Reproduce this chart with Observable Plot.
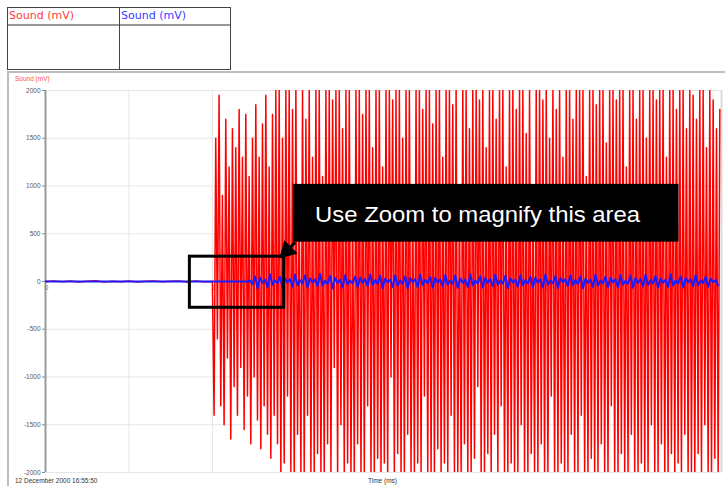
<!DOCTYPE html>
<html>
<head>
<meta charset="utf-8">
<script src="https://cdn.jsdelivr.net/npm/d3@7"></script>
<script src="https://cdn.jsdelivr.net/npm/@observablehq/plot@0.6"></script>
<style>
  html, body { margin: 0; padding: 0; background: #fff; }
  body { width: 725px; height: 486px; position: relative; overflow: hidden; font-family: "DejaVu Sans", sans-serif; }
  #table { position: absolute; left: 7px; top: 7px; width: 224px; height: 63px; border: 1px solid #444; box-sizing: border-box; display: flex; }
  #table .cell { flex: 0 0 auto; height: 100%; box-sizing: border-box; }
  #table .cell:first-child { width: 112px; border-right: 1px solid #444; }
  #table .cell:last-child { width: 110px; }
  #table .head { height: 16px; border-bottom: 2px solid #999; font-size: 11px; line-height: 15px; padding-left: 1px; }
  #panel { position: absolute; left: 7px; top: 71px; width: 718px; height: 415px; border-left: 2px solid #bdbdbd; border-top: 2px solid #bdbdbd; box-sizing: border-box; }
  #chart { position: absolute; left: 0; top: 72px; }
  .small { position: absolute; font-family: "Liberation Sans", sans-serif; font-size: 6.5px; white-space: nowrap; }
</style>
</head>
<body>
<div id="table"></div>
<div id="panel"></div>
<div id="chart"></div>
<div class="small" style="left:15px; top:75px; color:#ff5050;" id="ylab"></div>
<div class="small" style="left:15px; top:477px; color:#333;" id="stamp"></div>
<div class="small" style="left:368px; top:477px; color:#333;" id="xlab"></div>
<script>
// ---------------- data ----------------
const channelNames = ["Sound (mV)", "Sound (mV)"];
const channelColors = ["#ff3b3b", "#3b3bff"];
const yLabel = "Sound (mV)";
const xLabel = "Time (ms)";
const stamp = "12 December 2000  16:55:50";

const yTicks = [-2000, -1500, -1000, -500, 0, 500, 1000, 1500, 2000];
const xGrid = [1, 2, 3, 4, 5, 6, 7, 8];
const xTickLabels = [0, 2, 4, 6, 8];
const xMax = 8.1;

// red channel: quiet pre-trigger samples (step 0.1 ms from 0)
const PRE_STEP = 0.1;
const redPre = [0, 5, -3, 6, -4, 2, 7, -5, 3, -2, 5, -4, 3, 6, -3, 2, 5, -6, 4, -2];
// red channel after trigger (step 0.02 ms from 2.0 ms)
const RED_START = 2.0;
const STEP = 0.02;
const redMain = [
  0, -1400, 1500, -600, 1950, -1300, 900, -1500, 1700, -800,
  1200, -1650, 1600, -1100, 1400, -1400, 1800, -900, 1300, -1550,
  1750, -1200, 1100, -1700, 1500, -1000, 1850, -1450, 1300, -1750,
  1650, -1300, 1950, -1600, 1200, -1850, 1750, -1400, 2000, -1700,
  2000, -2000, 1500, -1900, 2000, -1200, 2000, -2000, 1800, -2000,
  2000, -1600, 900, -2000, 2000, -2000, 1700, -1400, 2000, -2000,
  1300, -2000, 2000, -1800, 2000, -2000, 1100, -2000, 2000, -1700,
  2000, -2000, 1900, -900, 2000, -2000, 2000, -1500, 1600, -2000,
  2000, -1900, 2000, -2000, 800, -2000, 2000, -1700, 2000, -2000,
  1750, -2000, 2000, -1300, 2000, -2000, 1400, -2000, 2000, -1850,
  2000, -2000, 1200, -1900, 2000, -2000, 2000, -1000, 1900, -2000,
  2000, -1800, 2000, -2000, 1500, -2000, 2000, -1600, 2000, -2000,
  1000, -2000, 2000, -1900, 2000, -2000, 1800, -1200, 2000, -2000,
  2000, -2000, 1650, -2000, 2000, -1750, 2000, -2000, 1300, -1900,
  2000, -2000, 2000, -1400, 1850, -2000, 2000, -2000, 900, -2000,
  2000, -1700, 2000, -2000, 1600, -2000, 2000, -1850, 2000, -1100,
  1900, -2000, 2000, -2000, 1400, -1800, 2000, -2000, 2000, -1600,
  1700, -2000, 2000, -1300, 2000, -2000, 1200, -2000, 2000, -1900,
  2000, -2000, 1800, -2000, 2000, -1500, 2000, -2000, 1550, -2000,
  2000, -1800, 1000, -2000, 2000, -2000, 2000, -1700, 1900, -2000,
  2000, -2000, 1500, -1200, 2000, -2000, 1800, -2000, 2000, -1900,
  1300, -2000, 2000, -2000, 2000, -1600, 1700, -2000, 2000, -2000,
  2000, -1400, 2000, -2000, 1100, -2000, 2000, -1850, 2000, -2000,
  1850, -2000, 2000, -1700, 2000, -2000, 1450, -2000, 2000, -1300,
  2000, -2000, 1900, -2000, 2000, -1800, 2000, -2000, 1200, -2000,
  2000, -1600, 2000, -2000, 1700, -2000, 2000, -1900, 2000, -2000,
  1500, -2000, 2000, -1500, 2000, -2000, 1900, -2000, 2000, -1700,
  2000, -2000, 1300, -2000, 2000, -1800, 2000, -2000, 1800, -1900,
  2000, -2000, 2000, -1600, 1600, -2000, 2000, -2000, 1950, -2000,
  1700, -1800, 2000, -2000, 2000, -1500, 1400, -2000, 2000, -2000,
  1900, -1850, 1600, -2000, 1800
];
// blue channel: flat until 2.45 ms, then small bursts (step 0.03 ms)
const BLUE_START = 2.45;
const BLUE_STEP = 0.03;
const bluePre = [0, 0];
const bluePreT = [0, 2.42];
const blueMain = [
  10, -25, 55, -70, 40, -15, 20, -60, 75, -35, 12, -18, 50, -65, 30, -10, 25, -55, 70, -40,
  15, -20, 65, -60, 35, -12, 22, -50, 80, -45, 8, -24, 58, -72, 38, -14, 18, -62, 66, -30,
  10, -20, 52, -58, 42, -16, 26, -48, 74, -36, 14, -22, 60, -68, 32, -8, 20, -56, 64, -44,
  12, -26, 54, -70, 36, -10, 24, -60, 72, -38, 16, -18, 48, -62, 40, -12, 22, -52, 68, -34,
  10, -24, 62, -66, 30, -14, 20, -58, 76, -42, 8, -20, 56, -64, 38, -16, 26, -50, 70, -36,
  12, -22, 60, -72, 34, -10, 18, -54, 66, -40, 14, -24, 52, -60, 42, -12, 22, -62, 74, -32,
  10, -20, 58, -68, 36, -8, 24, -48, 64, -38, 16, -26, 54, -70, 30, -14, 20, -56, 72, -44,
  12, -18, 50, -62, 40, -10, 22, -60, 68, -34, 8, -24, 62, -66, 38, -16, 26, -52, 70, -36,
  14, -20, 56, -64, 32, -12, 18, -58, 76, -42, 10, -22, 54, -60, 36, -10, 24, -50, 66, -40,
  12, -18, 48, -56, 30, -8, 16, -40
];

// annotation (data coordinates)
const zoomBox = [{x1: 1.73, x2: 2.86, y1: -275, y2: 260}];
const callout = [{x1: 2.97, x2: 7.59, y1: 412, y2: 1017, tx: 3.23, ty: 700, text: "Use Zoom to magnify this area"}];
const pointer = [{x1: 2.99, y1: 410, x2: 2.91, y2: 335, hx: 2.895, hy: 322}];

// ---------------- build ----------------
const tbl = document.getElementById("table");
channelNames.forEach((n, i) => {
  const c = document.createElement("div");
  c.className = "cell";
  const h = document.createElement("div");
  h.className = "head";
  h.style.color = channelColors[i];
  h.textContent = n;
  c.appendChild(h);
  tbl.appendChild(c);
});
document.getElementById("ylab").textContent = yLabel;
document.getElementById("xlab").textContent = xLabel;
document.getElementById("stamp").textContent = stamp;

const redRows = [
  ...redPre.map((v, i) => ({t: i * PRE_STEP, v})),
  ...redMain.map((v, i) => ({t: RED_START + i * STEP, v}))
];
const blueRows = [
  ...bluePre.map((v, i) => ({t: bluePreT[i], v})),
  ...blueMain.map((v, i) => ({t: BLUE_START + i * BLUE_STEP, v}))
];

const chart = Plot.plot({
  width: 725,
  height: 414,
  marginLeft: 45,
  marginRight: 4,
  marginTop: 18,
  marginBottom: 14,
  x: {domain: [0, xMax], axis: null},
  y: {domain: [-2000, 2000], axis: null},
  style: {fontFamily: "Liberation Sans, sans-serif", fontSize: "6.5px", color: "#555", background: "transparent", overflow: "visible"},
  marks: [
    Plot.ruleY(yTicks, {stroke: "#e6e6e6", strokeWidth: 1}),
    Plot.ruleX(xGrid, {stroke: "#e6e6e6", strokeWidth: 1}),
    Plot.ruleX([xMax], {stroke: "#dcdcdc", strokeWidth: 2}),
    Plot.axisY({ticks: yTicks, tickFormat: d => String(d), tickSize: 3, tickPadding: 2, stroke: "#888", fill: "#555", label: null}),
    Plot.ruleX([0], {stroke: "#9a9a9a", strokeWidth: 2}),
    Plot.text(xTickLabels, {x: d => d, y: 0, dy: 6, dx: 1, text: d => String(d), fill: "#777", fontSize: 6.5}),
    Plot.line(redRows, {x: "t", y: "v", stroke: "#ff0000", strokeWidth: 1.5, clip: true}),
    Plot.line(blueRows, {x: "t", y: "v", stroke: "#1a1aff", strokeWidth: 2, clip: true}),
    Plot.rect(zoomBox, {x1: "x1", x2: "x2", y1: "y1", y2: "y2", fill: "none", stroke: "black", strokeWidth: 3}),
    Plot.rect(callout, {x1: "x1", x2: "x2", y1: "y1", y2: "y2", fill: "black"}),
    Plot.text(callout, {x: "tx", y: "ty", text: "text", textAnchor: "start", fill: "white", fontSize: 22, fontFamily: "Liberation Sans, sans-serif", className: "callout-text"}),
    Plot.link(pointer, {x1: "x1", y1: "y1", x2: "x2", y2: "y2", stroke: "black", strokeWidth: 3}),
    Plot.dot(pointer, {x: "hx", y: "hy", symbol: "triangle", r: 7, rotate: 225, fill: "black", stroke: "none"})
  ]
});
chart.querySelectorAll(".callout-text text").forEach(t => {
  t.setAttribute("textLength", "325");
  t.setAttribute("lengthAdjust", "spacingAndGlyphs");
});
document.getElementById("chart").appendChild(chart);
</script>
</body>
</html>
